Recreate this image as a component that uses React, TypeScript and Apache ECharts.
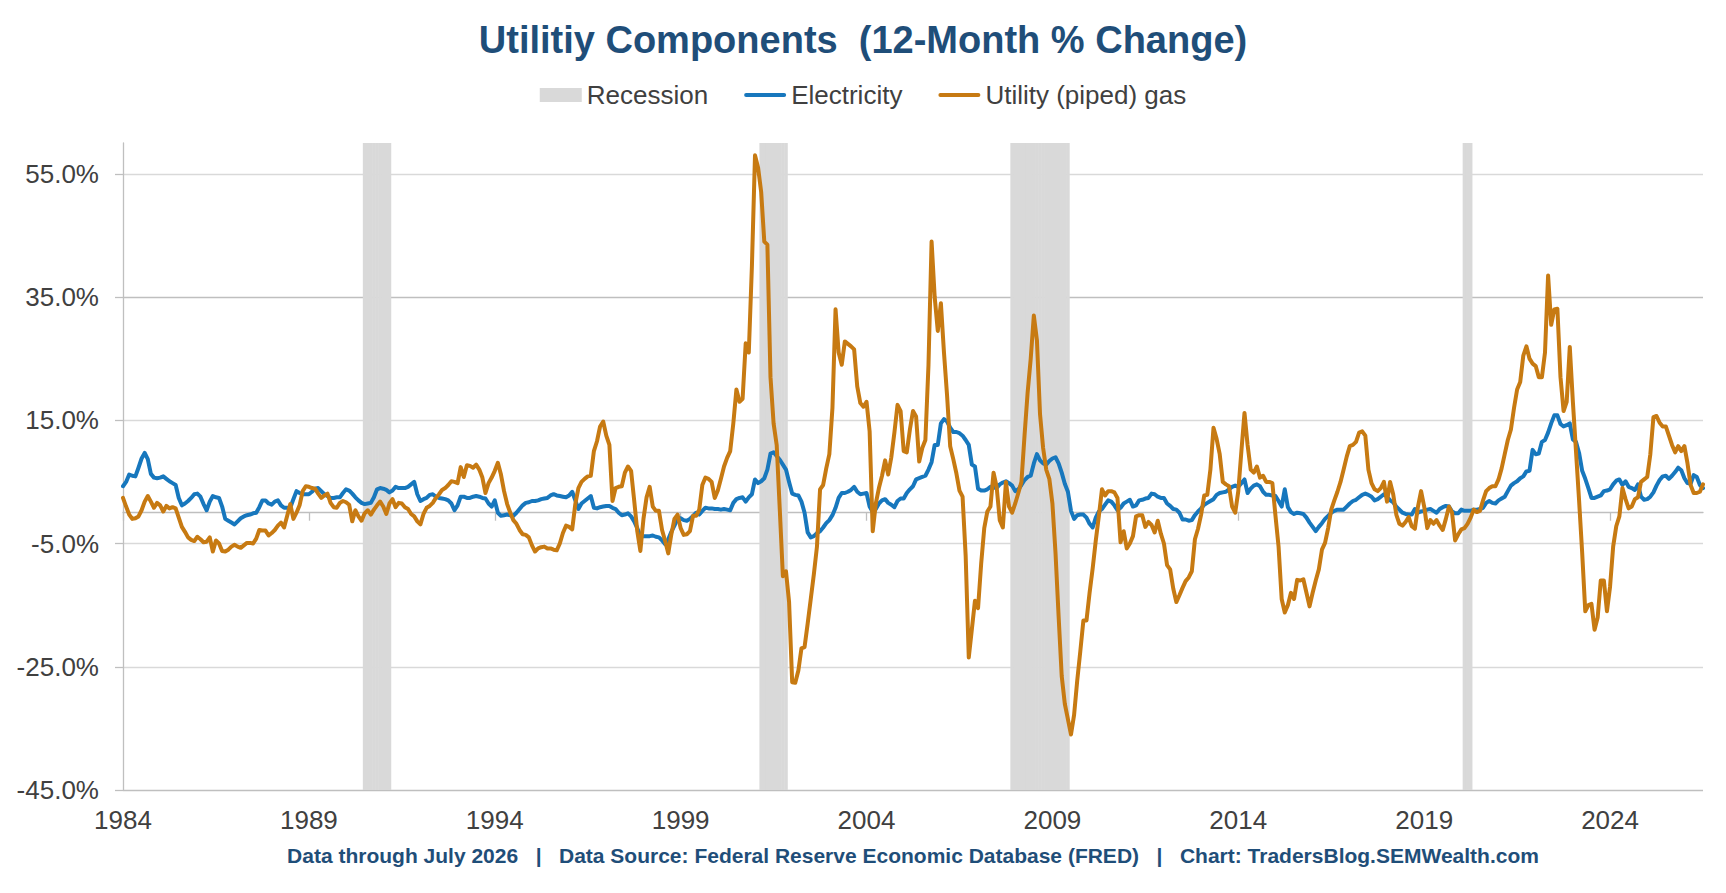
import { useEffect, useRef } from "react";
import * as echarts from "echarts";

// ─── Look ───────────────────────────────────────────────────────────
const FONT = '"Liberation Sans", Arial, Helvetica, sans-serif';
const NAVY = "#1F4E79";
const TEXT = "#404040";
const GRID_MAJOR = "#BFBFBF";
const GRID_MINOR = "#D9D9D9";
const BAND = "#D9D9D9";
const BLUE = "#1777BD";
const ORANGE = "#C77A12";
// flat bar used as the legend swatch of the two line series
const LINE_ICON = "path://M2,0 L40,0 A2,2 0 0 1 40,4 L2,4 A2,2 0 0 1 2,0 Z";

const TITLE = "Utilitiy Components  (12-Month % Change)";
const FOOTER =
  "Data through July 2026   |   Data Source: Federal Reserve Economic Database (FRED)   |   Chart: TradersBlog.SEMWealth.com";

// ─── Data ───────────────────────────────────────────────────────────
const FIRST_YEAR = 1984;
const LAST_MONTH = "2026-07";

// monthly categories Jan 1984 .. Jul 2026
const MONTHS: string[] = [];
for (let y = FIRST_YEAR; ; y++) {
  let done = false;
  for (let m = 1; m <= 12; m++) {
    const key = `${y}-${String(m).padStart(2, "0")}`;
    MONTHS.push(key);
    if (key === LAST_MONTH) {
      done = true;
      break;
    }
  }
  if (done) break;
}

const X_LABEL_YEARS = [1984, 1989, 1994, 1999, 2004, 2009, 2014, 2019, 2024];
const Y_LABELS = [-45, -25, -5, 15, 35, 55];

// NBER recessions (first month, last month)
const RECESSIONS: [string, string][] = [
  ["1990-07", "1991-03"],
  ["2001-03", "2001-11"],
  ["2007-12", "2009-06"],
  ["2020-02", "2020-04"],
];

// 12-month % change, one row per year
const ELECTRICITY = [
  4.3, 5.0, 6.2, 6.0, 5.9, 7.3, 8.8, 9.7, 8.7, 6.3, 5.7, 5.6, // 1984
  5.7, 5.9, 5.5, 5.1, 4.8, 4.5, 2.4, 1.2, 1.5, 1.9, 2.4, 3.0, // 1985
  3.1, 2.6, 1.4, 0.4, 1.8, 2.7, 2.5, 2.4, 1.0, -1.0, -1.3, -1.6, // 1986
  -1.9, -1.4, -0.9, -0.6, -0.4, -0.3, -0.1, 0.0, 0.9, 2.0, 2.0, 1.5, // 1987
  1.3, 1.8, 2.0, 1.2, 0.8, 0.8, 0.8, 2.2, 3.5, 3.2, 3.0, 3.0, // 1988
  3.0, 3.4, 3.9, 4.0, 3.5, 3.0, 2.7, 2.4, 2.4, 2.5, 2.5, 3.2, // 1989
  3.8, 3.6, 3.1, 2.5, 2.0, 1.6, 1.4, 1.5, 1.6, 2.5, 3.8, 4.0, // 1990
  3.9, 3.7, 3.3, 3.6, 4.2, 4.0, 4.0, 4.0, 4.2, 4.6, 5.0, 3.0, // 1991
  1.9, 2.2, 2.4, 2.9, 3.0, 2.6, 2.4, 2.3, 2.2, 2.0, 1.5, 0.4, // 1992
  1.2, 2.6, 2.6, 2.4, 2.4, 2.6, 2.7, 2.6, 2.4, 2.3, 1.5, 1.0, // 1993
  2.0, 0.0, -0.5, -0.4, -0.3, -0.4, -0.5, 0.0, 0.6, 1.2, 1.6, 1.7, // 1994
  1.9, 1.9, 2.0, 2.2, 2.3, 2.4, 2.8, 3.0, 2.8, 2.7, 2.6, 2.5, // 1995
  2.8, 3.4, 2.0, 0.6, 1.5, 1.9, 2.3, 2.7, 0.8, 0.7, 0.9, 1.0, // 1996
  1.1, 1.1, 0.8, 0.6, 0.0, -0.4, -0.3, -0.1, -0.6, -1.4, -2.5, -3.8, // 1997
  -3.8, -3.8, -3.8, -3.7, -3.9, -4.0, -4.5, -5.1, -4.3, -3.1, -2.1, -1.0, // 1998
  -0.9, -1.2, -1.3, -1.0, -0.5, 0.0, -0.3, 0.3, 0.8, 0.7, 0.7, 0.6, // 1999
  0.6, 0.5, 0.6, 0.5, 0.4, 1.6, 2.2, 2.4, 2.5, 1.8, 2.5, 3.0, // 2000
  5.4, 4.8, 5.1, 5.6, 7.0, 9.6, 9.8, 9.2, 8.6, 7.8, 7.0, 5.0, // 2001
  3.1, 2.9, 2.8, 1.8, 0.0, -3.2, -4.0, -3.8, -3.3, -3.0, -2.4, -1.7, // 2002
  -1.2, -0.4, 0.8, 2.4, 3.2, 3.2, 3.4, 3.7, 4.2, 3.4, 3.0, 3.1, // 2003
  3.2, 1.0, 0.1, 0.6, 1.5, 2.0, 2.2, 1.6, 1.3, 0.9, 1.9, 2.3, // 2004
  2.3, 3.2, 3.8, 4.3, 5.4, 5.6, 5.8, 6.0, 7.0, 8.2, 11.0, 11.0, // 2005
  14.5, 15.2, 14.8, 13.8, 13.1, 13.1, 12.9, 12.5, 11.8, 11.0, 7.8, 7.5, // 2006
  3.9, 3.6, 3.6, 3.8, 4.2, 4.1, 4.0, 4.6, 4.9, 5.1, 4.8, 4.4, // 2007
  3.5, 3.8, 4.5, 5.3, 5.8, 6.0, 8.0, 9.5, 8.5, 8.0, 7.8, 8.4, // 2008
  8.8, 9.0, 8.0, 6.5, 4.7, 3.4, 0.3, -1.0, -0.4, -0.3, -0.3, -0.8, // 2009
  -1.8, -2.4, -0.8, 0.2, 0.6, 1.3, 2.0, 1.8, 1.2, 0.4, 0.8, 1.5, // 2010
  1.8, 2.1, 1.0, 1.2, 2.0, 2.1, 2.3, 2.4, 3.1, 3.0, 2.6, 2.4, // 2011
  2.4, 1.5, 1.1, 0.6, 0.5, 0.0, -1.1, -1.1, -1.3, -1.2, -0.4, 0.2, // 2012
  0.7, 1.3, 1.6, 1.9, 2.2, 2.9, 3.2, 3.3, 3.4, 3.8, 4.2, 4.4, // 2013
  4.2, 4.8, 5.4, 3.2, 3.9, 4.4, 4.6, 4.3, 3.4, 2.9, 2.9, 2.8, // 2014
  2.7, 1.9, 1.0, 3.8, 0.9, 0.1, -0.2, 0.0, -0.1, -0.2, -0.8, -1.6, // 2015
  -2.3, -3.0, -2.3, -1.7, -1.0, -0.5, 0.0, 0.3, 0.5, 0.5, 0.5, 1.0, // 2016
  1.5, 1.9, 2.1, 2.5, 2.9, 3.1, 2.9, 2.6, 2.0, 2.2, 2.6, 3.0, // 2017
  2.6, 2.0, 1.7, 1.0, 0.5, 0.0, -0.2, -0.3, -0.3, 0.6, 0.0, 0.2, // 2018
  0.3, 0.5, 0.6, 0.3, 0.0, 0.6, 0.9, 1.1, 1.0, 0.2, -0.1, -0.1, // 2019
  0.5, 0.3, 0.3, 0.3, 0.5, 0.5, 0.6, 0.8, 1.6, 1.9, 1.6, 1.5, // 2020
  2.0, 2.3, 2.6, 3.5, 4.4, 4.8, 5.1, 5.6, 5.9, 6.7, 6.8, 10.2, // 2021
  9.5, 9.6, 11.5, 11.8, 13.0, 14.5, 15.8, 15.8, 14.4, 14.0, 14.2, 14.5, // 2022
  11.9, 11.5, 9.7, 6.8, 5.5, 4.0, 2.4, 2.4, 2.6, 2.8, 3.5, 3.6, // 2023
  3.8, 4.6, 5.2, 5.4, 4.5, 5.1, 4.2, 4.0, 3.7, 4.6, 2.6, 2.1, // 2024
  2.2, 2.6, 3.3, 4.4, 5.3, 5.9, 6.0, 5.5, 6.0, 6.6, 7.3, 6.9, // 2025
  5.6, 4.8, 4.7, 6.1, 5.8, 4.5, 4.0, // 2026
];

const PIPED_GAS = [
  2.4, 1.0, -0.3, -1.0, -0.9, -0.6, 0.4, 1.8, 2.7, 1.8, 0.8, 1.6, // 1984
  1.2, 0.2, 1.1, 0.7, 0.9, 0.7, -0.8, -2.3, -3.1, -4.0, -4.4, -4.6, // 1985
  -3.9, -4.3, -4.8, -4.7, -4.0, -6.3, -4.5, -5.0, -6.2, -6.3, -6.0, -5.5, // 1986
  -5.2, -5.5, -5.7, -5.3, -4.9, -4.9, -5.0, -4.2, -2.8, -2.9, -2.9, -3.7, // 1987
  -3.3, -2.8, -2.1, -1.6, -2.4, -0.5, 1.4, -1.0, 0.0, 1.2, 3.5, 4.3, // 1988
  4.2, 4.0, 3.9, 3.1, 2.4, 2.8, 3.1, 1.6, 0.9, 0.8, 1.6, 1.9, // 1989
  1.7, 1.3, -1.4, 0.4, -0.6, -1.3, -0.1, 0.4, -0.3, 0.5, 1.2, 1.8, // 1990
  1.0, -0.2, 1.5, 2.2, 0.9, 1.6, 1.5, 0.9, 0.6, -0.2, -0.6, -1.4, // 1991
  -1.9, -0.2, 0.8, 1.1, 1.6, 2.4, 3.0, 3.7, 4.0, 4.5, 5.1, 5.0, // 1992
  4.8, 7.4, 5.8, 7.7, 7.6, 7.3, 7.8, 7.0, 5.7, 3.2, 4.8, 5.7, // 1993
  6.8, 8.1, 6.2, 3.5, 1.4, 0.0, -1.2, -1.8, -2.8, -3.5, -3.6, -4.0, // 1994
  -5.3, -6.3, -5.8, -5.6, -5.5, -5.8, -5.8, -6.0, -6.1, -5.0, -3.3, -2.1, // 1995
  -2.3, -2.7, 1.4, 4.0, 5.0, 5.5, 5.9, 6.0, 10.0, 11.6, 14.0, 14.8, // 1996
  12.5, 11.0, 1.9, 4.0, 4.2, 4.3, 6.5, 7.5, 6.8, 2.0, -3.0, -6.2, // 1997
  -1.0, 2.5, 4.2, 1.0, 0.3, 0.3, -2.8, -4.6, -6.6, -3.5, -1.0, -0.3, // 1998
  -2.5, -3.6, -3.5, -3.0, -0.5, -0.5, 0.5, 4.5, 5.7, 5.5, 5.0, 2.4, // 1999
  3.6, 5.5, 7.5, 8.9, 10.0, 14.5, 20.0, 18.0, 18.5, 27.5, 26.0, 40.0, // 2000
  58.0, 56.0, 52.0, 44.0, 43.5, 22.0, 14.5, 11.0, 0.5, -10.3, -9.5, -14.5, // 2001
  -27.5, -27.6, -25.6, -22.0, -21.8, -18.0, -14.0, -10.0, -5.5, 3.8, 4.5, 7.2, // 2002
  9.5, 17.0, 33.0, 26.0, 24.0, 27.8, 27.4, 27.0, 26.5, 20.5, 17.8, 17.2, // 2003
  18.0, 13.2, -3.0, 1.5, 4.0, 6.0, 8.5, 6.2, 9.0, 13.0, 17.5, 16.5, // 2004
  10.0, 9.8, 13.5, 16.5, 15.6, 8.3, 10.5, 11.8, 24.0, 44.0, 35.0, 29.5, // 2005
  34.0, 26.0, 19.0, 10.8, 8.7, 6.4, 3.6, 2.6, -7.0, -23.5, -18.9, -14.3, // 2006
  -15.5, -8.3, -2.5, 0.2, 1.0, 6.5, 4.2, -1.2, -2.4, 5.0, 1.0, 0.0, // 2007
  1.5, 3.2, 5.0, 12.5, 19.5, 25.0, 32.0, 28.0, 16.0, 10.5, 7.0, 5.5, // 2008
  1.5, -6.5, -16.8, -26.5, -31.0, -33.5, -36.0, -32.8, -27.3, -22.5, -17.5, -17.5, // 2009
  -13.0, -9.0, -4.5, -0.5, 3.8, 2.8, 3.5, 3.5, 3.3, 2.4, -4.8, -3.0, // 2010
  -5.8, -5.0, -3.8, -0.6, -0.4, -0.4, -2.3, -1.5, -2.0, -3.2, -1.3, -3.4, // 2011
  -5.0, -8.5, -9.2, -12.3, -14.5, -13.4, -12.2, -11.1, -10.5, -9.5, -4.3, -2.6, // 2012
  -0.3, 2.8, 2.9, 7.0, 13.8, 12.0, 9.5, 5.0, 4.6, 4.3, 1.0, 0.0, // 2013
  3.5, 10.0, 16.2, 11.0, 7.0, 6.5, 7.5, 5.7, 6.0, 5.0, 5.0, 4.8, // 2014
  -0.5, -5.5, -14.0, -16.2, -15.0, -13.0, -14.0, -10.9, -11.0, -10.8, -13.0, -15.2, // 2015
  -13.0, -11.0, -9.2, -6.0, -4.9, -2.5, 0.5, 2.0, 3.4, 5.0, 7.0, 9.1, // 2016
  10.8, 11.0, 11.5, 13.0, 13.2, 12.5, 7.0, 4.8, 3.8, 3.5, 4.0, 5.0, // 2017
  1.8, 5.0, 3.0, -0.3, -1.8, -2.1, -1.5, -0.7, -2.2, -2.6, 1.0, 3.5, // 2018
  1.0, -2.5, -1.2, -1.8, -1.2, -2.1, -2.8, -1.0, 1.0, 0.0, -4.5, -3.5, // 2019
  -2.7, -2.5, -1.8, -0.8, 0.5, 0.1, 0.3, 2.0, 3.5, 4.0, 4.3, 4.3, // 2020
  5.4, 7.2, 9.5, 11.8, 13.5, 17.0, 20.0, 21.2, 25.5, 27.0, 25.0, 24.2, // 2021
  23.8, 22.0, 22.0, 26.0, 38.5, 30.5, 33.0, 33.1, 22.0, 16.5, 18.0, 26.9, // 2022
  18.0, 10.0, 2.0, -6.5, -16.0, -15.0, -14.8, -19.0, -17.0, -11.0, -11.0, -16.0, // 2023
  -12.0, -5.5, -2.2, -0.6, 4.0, 2.2, 0.7, 1.0, 2.2, 2.5, 5.0, 5.4, // 2024
  5.8, 9.5, 15.5, 15.7, 14.6, 14.0, 14.0, 12.5, 11.0, 9.8, 10.8, 10.0, // 2025
  10.8, 8.0, 4.5, 3.2, 3.2, 3.4, 4.6, // 2026
];

// recession flag per month (drawn as full-height columns, like the Excel original)
const RECESSION_FLAGS = MONTHS.map((m) =>
  RECESSIONS.some(([a, b]) => m >= a && m <= b) ? 1 : null,
);

const isLabelMonth = (_i: number, value: string) =>
  value.endsWith("-01") && X_LABEL_YEARS.includes(Number(value.slice(0, 4)));

export default function App() {
  const ref = useRef<HTMLDivElement>(null);

  useEffect(() => {
    document.body.style.margin = "0";
    if (!ref.current) return;
    const chart = echarts.init(ref.current, undefined, { renderer: "svg" });

    chart.setOption({
      animation: false,
      textStyle: { fontFamily: FONT },
      title: {
        text: TITLE,
        left: "center",
        top: 16,
        textStyle: { fontSize: 38, fontWeight: "bold", color: NAVY, fontFamily: FONT },
      },
      legend: {
        top: 77,
        left: "center",
        itemWidth: 42,
        itemHeight: 14,
        itemGap: 36,
        textStyle: { fontSize: 26, color: TEXT, fontFamily: FONT },
        data: [
          { name: "Recession", icon: "rect" },
          { name: "Electricity", icon: LINE_ICON },
          { name: "Utility (piped) gas", icon: LINE_ICON },
        ],
      },
      grid: { left: 123, right: 23, top: 143, bottom: 103, containLabel: false },
      xAxis: [
        {
          type: "category",
          data: MONTHS,
          boundaryGap: false,
          position: "bottom",
          axisLine: { show: false, onZero: false },
          axisTick: { show: false },
          axisLabel: {
            interval: isLabelMonth,
            formatter: (v: string) => v.slice(0, 4),
            fontSize: 26,
            color: TEXT,
            fontFamily: FONT,
            margin: 17,
          },
          splitLine: { show: false },
        },
        {
          // horizontal axis line crossing at 0%
          type: "category",
          data: MONTHS,
          boundaryGap: false,
          position: "bottom",
          axisLine: {
            show: true,
            onZero: true,
            lineStyle: { color: GRID_MAJOR, width: 1.3 },
          },
          axisTick: {
            show: true,
            interval: isLabelMonth,
            length: 8,
            lineStyle: { color: GRID_MAJOR, width: 1.3 },
          },
          axisLabel: { show: false },
          splitLine: { show: false },
        },
      ],
      yAxis: [
        {
          type: "value",
          min: -45,
          max: 60,
          interval: 5,
          axisLine: { show: true, lineStyle: { color: GRID_MAJOR, width: 1.3 } },
          axisTick: {
            show: true,
            customValues: Y_LABELS,
            length: 8,
            lineStyle: { color: GRID_MAJOR, width: 1.3 },
          },
          axisLabel: {
            customValues: Y_LABELS,
            formatter: (v: number) => `${v.toFixed(1)}%`,
            fontSize: 26,
            color: TEXT,
            fontFamily: FONT,
            margin: 24,
          },
          splitLine: {
            show: true,
            lineStyle: {
              color: [GRID_MAJOR, GRID_MINOR, GRID_MINOR, GRID_MINOR],
              width: 1.3,
            },
          },
        },
        { type: "value", min: 0, max: 1, show: false },
      ],
      graphic: [
        {
          type: "text",
          x: 913,
          y: 855,
          silent: true,
          style: {
            text: FOOTER,
            fill: NAVY,
            fontSize: 21,
            fontWeight: "bold",
            fontFamily: FONT,
            align: "center",
            verticalAlign: "middle",
          },
        },
      ],
      series: [
        {
          name: "Recession",
          type: "bar",
          xAxisIndex: 0,
          yAxisIndex: 1,
          data: RECESSION_FLAGS,
          barWidth: 3.6,
          barGap: "-100%",
          silent: true,
          itemStyle: { color: BAND },
        },
        {
          name: "Electricity",
          type: "line",
          xAxisIndex: 0,
          yAxisIndex: 0,
          data: ELECTRICITY,
          symbol: "none",
          silent: true,
          lineStyle: { color: BLUE, width: 4, cap: "round", join: "round" },
          itemStyle: { color: BLUE },
        },
        {
          name: "Utility (piped) gas",
          type: "line",
          xAxisIndex: 0,
          yAxisIndex: 0,
          data: PIPED_GAS,
          symbol: "none",
          silent: true,
          lineStyle: { color: ORANGE, width: 4, cap: "round", join: "round" },
          itemStyle: { color: ORANGE },
        },
      ],
    });

    return () => chart.dispose();
  }, []);

  return (
    <div
      ref={ref}
      style={{ position: "absolute", left: 0, top: 0, width: 1726, height: 893, background: "#fff" }}
    />
  );
}
